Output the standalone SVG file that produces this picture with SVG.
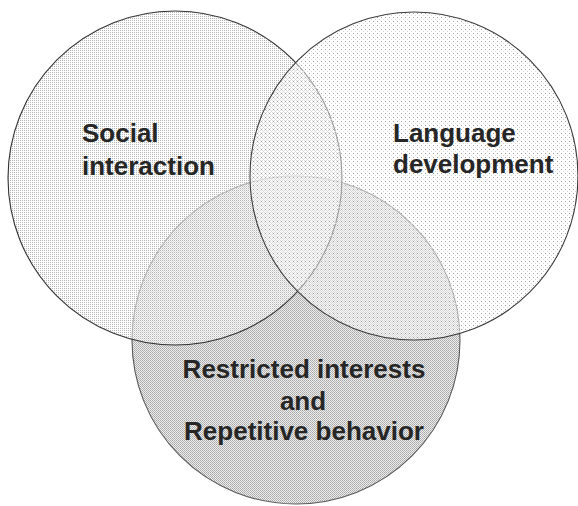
<svg xmlns="http://www.w3.org/2000/svg" width="578" height="506" viewBox="0 0 578 506">
  <defs>
    <!-- fine dot grid for the social interaction set -->
    <pattern id="dotsFine" width="2" height="2" patternUnits="userSpaceOnUse">
      <rect width="2" height="2" fill="#ffffff" fill-opacity="0.5"/>
      <rect x="0" y="0" width="1" height="1" fill="#b4b4b4"/>
    </pattern>
    <!-- sparse dot grid for the language set -->
    <pattern id="dotsSparse" width="4" height="4" patternUnits="userSpaceOnUse">
      <rect width="4" height="4" fill="#ffffff" fill-opacity="0.5"/>
      <rect x="1" y="1" width="1" height="1" fill="#a0a0a0"/>
      <rect x="3" y="3" width="1" height="1" fill="#d8d8d8"/>
    </pattern>
    <!-- dense diagonal checker for the restricted/repetitive set -->
    <pattern id="checker" width="2" height="2" patternUnits="userSpaceOnUse">
      <rect width="2" height="2" fill="#eeeeee"/>
      <rect x="0" y="0" width="1" height="1" fill="#a6a6a6"/>
      <rect x="1" y="1" width="1" height="1" fill="#b6b6b6"/>
    </pattern>
  </defs>
  <style>
    .label { font-family: "Liberation Sans", Arial, Helvetica, sans-serif; font-weight: bold; font-size: 26px; fill: #262626; }
    .ring { stroke-width: 1.1; }
  </style>

  <rect width="578" height="506" fill="#ffffff"/>

  <g id="restricted-repetitive">
    <circle class="ring" cx="296" cy="340" r="164" fill="url(#checker)" stroke="#5a5a5a"/>
  </g>

  <g id="social-interaction">
    <circle class="ring" cx="175" cy="178" r="167" fill="url(#dotsFine)" stroke="#333333"/>
  </g>

  <g id="language-development">
    <circle class="ring" cx="414" cy="176" r="164" fill="url(#dotsSparse)" stroke="#3c3c3c"/>
  </g>

  <g id="labels">
    <text class="label" x="82" y="142">Social</text>
    <text class="label" x="82" y="175">interaction</text>
    <text class="label" x="393" y="142">Language</text>
    <text class="label" x="393" y="173">development</text>
    <text class="label" x="304" y="378" text-anchor="middle">Restricted interests</text>
    <text class="label" x="303" y="410" text-anchor="middle">and</text>
    <text class="label" x="304" y="440" text-anchor="middle">Repetitive behavior</text>
  </g>
</svg>
